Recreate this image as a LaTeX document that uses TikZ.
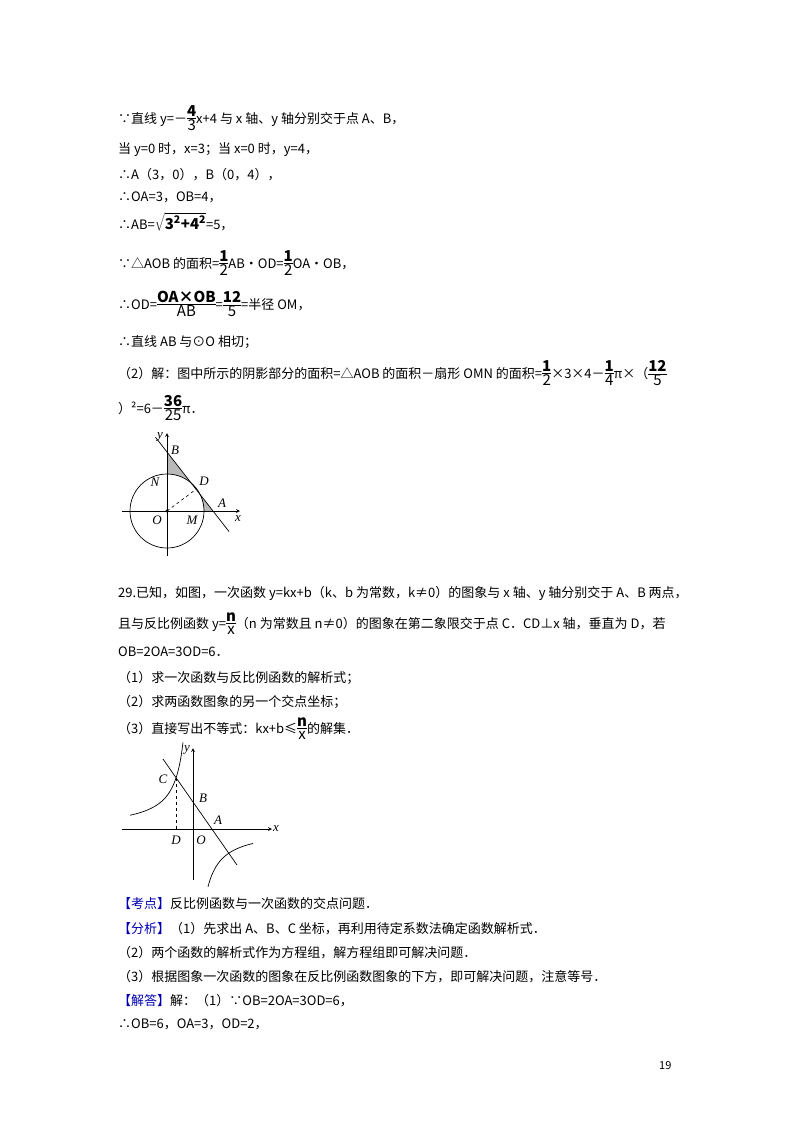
\documentclass[tikz,border=0pt]{standalone}
\usepackage{fontspec}
\usetikzlibrary{calc}
\setmainfont{Noto Sans CJK SC}
\newfontfamily\lbl{Liberation Serif}
\newcommand\fr[2]{$\vcenter{\hbox{\begin{tabular}{@{}c@{}}\fontsize{15}{15}\selectfont\bfseries #1\\[-2pt]\hline\noalign{\vskip1pt}\fontsize{15}{15}\selectfont #2\end{tabular}}}$}
\begin{document}
\begin{tikzpicture}[x=1pt,y=1pt,
  tx/.style={anchor=west,inner sep=0pt,font=\fontsize{13}{14}\selectfont},
  lb/.style={inner sep=1pt,font=\lbl\itshape\fontsize{13}{13}\selectfont},
  ax/.style={line width=0.8pt,-stealth}]
\useasboundingbox (0,0) rectangle (800,-1132);
\node[tx] (t1) at (118,-120) {∵直线 y=－\fr{4}{3}x+4 与 x 轴、y 轴分别交于点 A、B，};
\node[tx] (t2) at (118,-150) {当 y=0 时，x=3；当 x=0 时，y=4，};
\node[tx] (t3) at (118,-175) {∴A（3，0），B（0，4），};
\node[tx] (t4) at (118,-197) {∴OA=3，OB=4，};
\node[tx] (t5) at (118,-222) {∴AB=$\sqrt{\hbox{\bfseries\fontsize{15}{15}\selectfont 3\textsuperscript{2}+4\textsuperscript{2}}}$=5，};
\node[tx] (t6) at (118,-265) {∵△AOB 的面积=\fr{1}{2}AB•OD=\fr{1}{2}OA•OB，};
\node[tx] (t7) at (118,-306) {∴OD=\fr{OA×OB}{AB}=\fr{12}{5}=半径 OM，};
\node[tx] (t8) at (118,-342) {∴直线 AB 与⊙O 相切；};
\node[tx] (t9) at (118,-375) {（2）解：图中所示的阴影部分的面积=△AOB 的面积－扇形 OMN 的面积=\fr{1}{2}×3×4－\fr{1}{4}π×（\fr{12}{5}};
\node[tx] (t10) at (118,-410) {）²=6－\fr{36}{25}π．};
% figure 1
\coordinate (O1) at (167,-511);
\coordinate (A1) at (213,-511);
\coordinate (B1) at (167,-452);
\coordinate (M1) at (204,-511);
\fill[gray!55] (B1) -- (A1) -- (M1) arc[start angle=0,end angle=90,radius=37] -- cycle;
\draw[line width=0.7pt] (O1) circle[radius=37];
\draw[ax] (122,-511) -- (240,-511);
\draw[ax] (167,-556) -- (167,-433);
\draw[line width=0.7pt] ($(B1)!-0.25!(A1)$) -- ($(B1)!1.35!(A1)$);
\coordinate (D1) at ($(O1)+(29.6,22.2)$);
\draw[dashed,line width=0.6pt] (O1) -- (D1);
\fill (O1) circle[radius=1.6];
\node[lb] (ly1) at (160,-437) {y};
\node[lb] (lB1) at (175,-450) {B};
\node[lb] (lN1) at (155,-482) {N};
\node[lb] (lD1) at (204,-481) {D};
\node[lb] (lA1) at (222,-503) {A};
\node[lb] (lx1) at (238,-519) {x};
\node[lb] (lO1) at (157,-520) {O};
\node[lb] (lM1) at (192,-520) {M};
% problem 29
\node[tx] (t11) at (118,-593) {29.已知，如图，一次函数 y=kx+b（k、b 为常数，k≠0）的图象与 x 轴、y 轴分别交于 A、B 两点，};
\node[tx] (t12) at (118,-625) {且与反比例函数 y=\fr{n}{x}（n 为常数且 n≠0）的图象在第二象限交于点 C．CD⊥x 轴，垂直为 D，若};
\node[tx] (t13) at (118,-652) {OB=2OA=3OD=6．};
\node[tx] (t14) at (118,-678) {（1）求一次函数与反比例函数的解析式；};
\node[tx] (t15) at (118,-702) {（2）求两函数图象的另一个交点坐标；};
\node[tx] (t16) at (118,-730) {（3）直接写出不等式：kx+b≤\fr{n}{x}的解集．};
% figure 2
\coordinate (O2) at (193,-829);
\coordinate (C2) at (176,-778);
\coordinate (A2) at (213,-829);
\coordinate (D2) at (176,-829);
\draw[ax] (122,-829) -- (272,-829);
\draw[ax] (193,-880) -- (193,-748);
\draw[line width=0.7pt] (163,-759) -- (237,-865);
\draw[line width=0.7pt,domain=-63:-10,samples=60] plot ({193+\x},{-829-867/\x});
\draw[line width=0.7pt,domain=15:60,samples=60] plot ({193+\x},{-829-867/\x});
\draw[dashed,line width=0.6pt] (C2) -- (D2);
\node[lb] (ly2) at (187,-750) {y};
\node[lb] (lC2) at (163,-779) {C};
\node[lb] (lB2) at (203,-798) {B};
\node[lb] (lA2) at (218,-820) {A};
\node[lb] (lx2) at (276,-829) {x};
\node[lb] (lD2) at (176,-840) {D};
\node[lb] (lO2) at (201,-840) {O};
\node[tx] (t17) at (118,-904) {\textcolor{blue!70!black}{【考点】}反比例函数与一次函数的交点问题．};
\node[tx] (t18) at (118,-929) {\textcolor{blue!70!black}{【分析】}（1）先求出 A、B、C 坐标，再利用待定系数法确定函数解析式．};
\node[tx] (t19) at (118,-953) {（2）两个函数的解析式作为方程组，解方程组即可解决问题．};
\node[tx] (t20) at (118,-977) {（3）根据图象一次函数的图象在反比例函数图象的下方，即可解决问题，注意等号．};
\node[tx] (t21) at (118,-1001) {\textcolor{blue!70!black}{【解答】}解：（1）∵OB=2OA=3OD=6，};
\node[tx] (t22) at (118,-1024) {∴OB=6，OA=3，OD=2，};
\node[tx,font=\fontsize{11}{11}\selectfont] (pg) at (659,-1066) {19};
\end{tikzpicture}
\end{document}
